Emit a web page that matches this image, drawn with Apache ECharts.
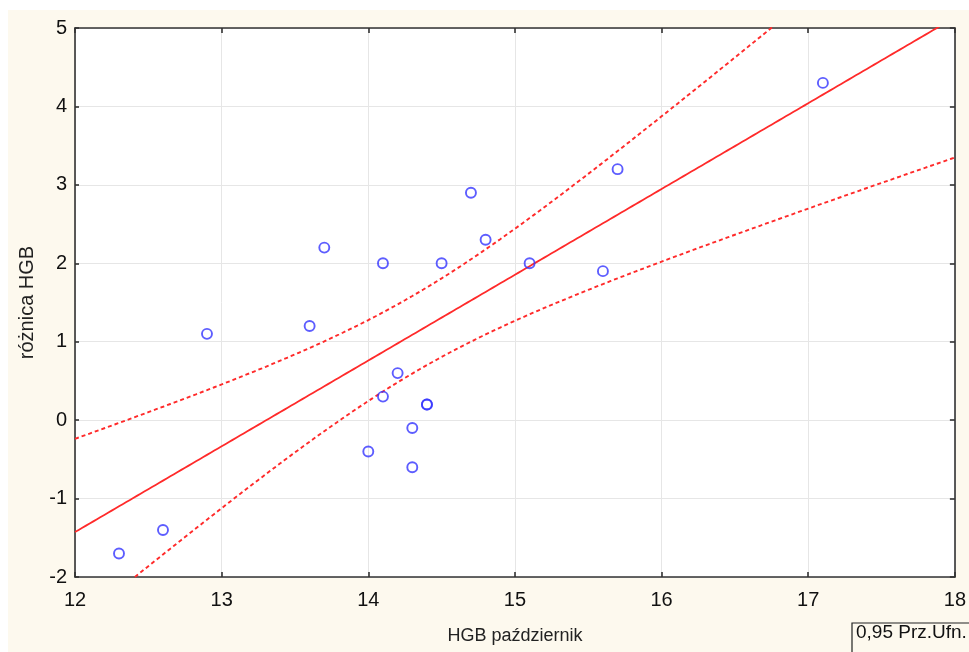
<!DOCTYPE html>
<html>
<head>
<meta charset="utf-8">
<script src="https://cdn.jsdelivr.net/npm/echarts@6/dist/echarts.min.js"></script>
<style>
  html, body { margin: 0; padding: 0; background: #ffffff; }
  #chart { position: absolute; left: 8px; top: 10px; width: 961px; height: 642px; }
</style>
</head>
<body>
<div id="chart"></div>
<script>
// Data (the point at 14.4 / 0.2 is drawn twice, overplotted)
var hgbOctober = [12.3, 12.6, 12.9, 13.6, 13.7, 14.1, 14.0, 14.1, 14.2, 14.3, 14.3, 14.4, 14.4, 14.5, 14.7, 14.8, 15.1, 15.6, 15.7, 17.1];
var hgbDifference = [-1.7, -1.4, 1.1, 1.2, 2.2, 2.0, -0.4, 0.3, 0.6, -0.1, -0.6, 0.2, 0.2, 2.0, 2.9, 2.3, 2.0, 1.9, 3.2, 4.3];
var xTicks = [12, 13, 14, 15, 16, 17, 18];
var yTicks = [-2, -1, 0, 1, 2, 3, 4, 5];
var confidenceLabel = '0,95 Prz.Ufn.';
var T_975_DF18 = 2.1009; // Student t quantile for the 0.95 confidence band (n - 2 = 18)

// Least-squares fit and 95% confidence band of the mean, derived from the data
var n = hgbOctober.length;
var mx = hgbOctober.reduce(function (a, b) { return a + b; }, 0) / n;
var my = hgbDifference.reduce(function (a, b) { return a + b; }, 0) / n;
var sxx = 0, sxy = 0, syy = 0;
for (var i = 0; i < n; i++) {
  var dx = hgbOctober[i] - mx, dy = hgbDifference[i] - my;
  sxx += dx * dx; sxy += dx * dy; syy += dy * dy;
}
var slope = sxy / sxx;
var intercept = my - slope * mx;
var s = Math.sqrt((syy - slope * sxy) / (n - 2));
var fitLine = [], upperBand = [], lowerBand = [];
var xMin = xTicks[0], xMax = xTicks[xTicks.length - 1];
for (var k = 0; k <= 240; k++) {
  var x = xMin + (xMax - xMin) * k / 240;
  var yhat = intercept + slope * x;
  var half = T_975_DF18 * s * Math.sqrt(1 / n + (x - mx) * (x - mx) / sxx);
  fitLine.push([x, yhat]);
  upperBand.push([x, yhat + half]);
  lowerBand.push([x, yhat - half]);
}
var points = hgbOctober.map(function (v, i) { return [v, hgbDifference[i]]; });

var FONT = '"Liberation Sans", Arial, sans-serif';
var axisLineStyle = { color: '#333333', width: 1.6 };

var chart = echarts.init(document.getElementById('chart'));
chart.setOption({
  backgroundColor: '#fdf9ee',
  animation: false,
  grid: { left: 67, top: 18, right: 14, bottom: 75, show: true, backgroundColor: '#ffffff', borderWidth: 0 },
  xAxis: [{
    type: 'value', min: xMin, max: xMax, interval: 1, position: 'bottom',
    name: 'HGB październik', nameLocation: 'middle', nameGap: 50,
    nameTextStyle: { fontFamily: FONT, fontSize: 18, color: '#222' },
    axisLine: { show: true, onZero: false, lineStyle: axisLineStyle },
    axisTick: { show: true, inside: true, length: 5, lineStyle: axisLineStyle },
    axisLabel: { fontFamily: FONT, fontSize: 20, color: '#111', margin: 13 },
    splitLine: { show: true, lineStyle: { color: '#e6e6e6', width: 1 } }
  }, {
    type: 'value', min: xMin, max: xMax, interval: 1, position: 'top',
    axisLine: { show: true, onZero: false, lineStyle: axisLineStyle },
    axisTick: { show: true, inside: true, length: 5, lineStyle: axisLineStyle },
    axisLabel: { show: false }, splitLine: { show: false }
  }],
  yAxis: [{
    type: 'value', min: yTicks[0], max: yTicks[yTicks.length - 1], interval: 1, position: 'left',
    name: 'różnica HGB', nameLocation: 'middle', nameGap: 38, nameRotate: 90,
    nameTextStyle: { fontFamily: FONT, fontSize: 20, color: '#222' },
    axisLine: { show: true, onZero: false, lineStyle: axisLineStyle },
    axisTick: { show: true, inside: true, length: 4, lineStyle: axisLineStyle },
    axisLabel: { fontFamily: FONT, fontSize: 20, color: '#111', margin: 8 },
    splitLine: { show: true, lineStyle: { color: '#e6e6e6', width: 1 } }
  }, {
    type: 'value', min: yTicks[0], max: yTicks[yTicks.length - 1], interval: 1, position: 'right',
    axisLine: { show: true, onZero: false, lineStyle: axisLineStyle },
    axisTick: { show: true, inside: true, length: 5, lineStyle: axisLineStyle },
    axisLabel: { show: false }, splitLine: { show: false }
  }],
  graphic: [{
    type: 'rect', shape: { x: 844, y: 613, width: 140, height: 50 },
    style: { fill: '#fdf9ee', stroke: '#222', lineWidth: 1.2 }, z: 100
  }, {
    type: 'text', x: 848, y: 623,
    style: { text: confidenceLabel, font: '19px ' + FONT, fill: '#111', verticalAlign: 'middle', align: 'left' }, z: 101
  }],
  series: [{
    type: 'line', data: upperBand, showSymbol: false, clip: true, silent: true,
    lineStyle: { color: '#ff2a2a', width: 1.9, type: [4, 3] }, z: 3
  }, {
    type: 'line', data: lowerBand, showSymbol: false, clip: true, silent: true,
    lineStyle: { color: '#ff2a2a', width: 1.9, type: [4, 3] }, z: 3
  }, {
    type: 'line', data: fitLine, showSymbol: false, clip: true, silent: true,
    lineStyle: { color: '#ff2a2a', width: 1.8 }, z: 3
  }, {
    type: 'scatter', data: points, symbol: 'circle', symbolSize: 10,
    itemStyle: { color: 'rgba(255,255,255,0)', borderColor: '#3535ff', borderWidth: 1.9 }, z: 4
  }]
});
</script>
</body>
</html>
